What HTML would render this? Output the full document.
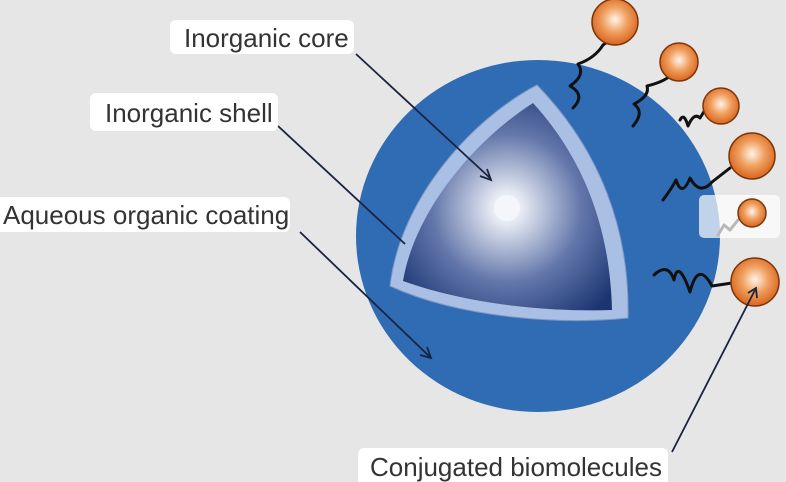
<!DOCTYPE html>
<html><head><meta charset="utf-8"><style>
html,body{margin:0;padding:0;background:#e6e6e6;}
svg{display:block}
text{font-family:"Liberation Sans",sans-serif;font-size:26px;fill:#333}
</style></head><body>
<svg width="786" height="482" viewBox="0 0 786 482" xmlns="http://www.w3.org/2000/svg">
<defs>
<radialGradient id="core" cx="507" cy="208" r="135" gradientUnits="userSpaceOnUse">
<stop offset="0" stop-color="#ffffff"/><stop offset="0.12" stop-color="#e4e8f2"/>
<stop offset="0.55" stop-color="#6377aa"/><stop offset="1" stop-color="#1b3572"/>
</radialGradient>
<radialGradient id="ball" cx="0.5" cy="0.45" r="0.55">
<stop offset="0" stop-color="#fff4ea"/><stop offset="0.5" stop-color="#f0a060"/><stop offset="1" stop-color="#d9641f"/>
</radialGradient>
</defs>
<rect width="786" height="482" fill="#e6e6e6"/>
<ellipse cx="538" cy="236" rx="182" ry="176" fill="#2f6cb4"/>
<path d="M537 85 C470 120 400 200 390 286 C460 318 560 325 628 318 C630 230 600 150 537 85 Z" fill="#a9c0e4" stroke="#7f98c4" stroke-width="1"/>
<path d="M533 103 C475 140 415 210 403 281 C470 305 550 312 612 310 C610 230 585 160 533 103 Z" fill="url(#core)"/>
<circle cx="507" cy="208" r="13" fill="#f4f6fb"/>
<g fill="none" stroke="#111" stroke-width="3" stroke-linejoin="round" stroke-linecap="round">
<path d="M573 108 Q586 95 570 86 Q586 75 578 64 Q595 58 603 45 L610 40"/>
<path d="M633 126 Q645 112 634 104 Q650 96 647 86 Q663 82 670 76"/>
<path d="M680 120 Q684 112 688 126 Q694 112 700 118 L705 110"/>
<path d="M663 200 Q672 188 676 180 Q682 198 690 178 Q700 196 712 182 L730 168"/>
<path d="M718 235 L724 225 L730 230 L738 220"/>
<path d="M654 275 Q668 262 674 280 Q678 258 690 292 Q698 260 712 286 L732 283"/>
</g>
<rect x="699" y="195" width="81" height="43" rx="5" fill="#fff" opacity="0.7"/>
<g stroke="#7a3608" stroke-width="1.5">
<circle cx="615" cy="22" r="23" fill="url(#ball)"/>
<circle cx="679" cy="62" r="19" fill="url(#ball)"/>
<circle cx="721" cy="106" r="18" fill="url(#ball)"/>
<circle cx="752" cy="156" r="23" fill="url(#ball)"/>
<circle cx="752" cy="213" r="14" fill="url(#ball)"/>
<circle cx="755" cy="282" r="24" fill="url(#ball)"/>
</g>
<g stroke="#1a2440" stroke-width="1.8" fill="none">
<path d="M356 54 L490 178"/><path d="M480 176 L491 180 L487 169"/>
<path d="M278 126 L405 244"/>
<path d="M300 232 L430 357"/><path d="M420 355 L431 358 L427 347"/>
<path d="M672 452 L755 290"/><path d="M748 293 L756 288 L757 298"/>
</g>
<rect x="170" y="20" width="184" height="34" rx="6" fill="#fff"/>
<text x="184" y="47">Inorganic core</text>
<rect x="90" y="93" width="188" height="38" rx="6" fill="#fff"/>
<text x="105" y="122">Inorganic shell</text>
<rect x="-6" y="197" width="296" height="35" rx="6" fill="#fff"/>
<text x="3" y="224">Aqueous organic coating</text>
<rect x="358" y="448" width="310" height="40" rx="6" fill="#fff"/>
<text x="370" y="476">Conjugated biomolecules</text>
</svg>
</body></html>
